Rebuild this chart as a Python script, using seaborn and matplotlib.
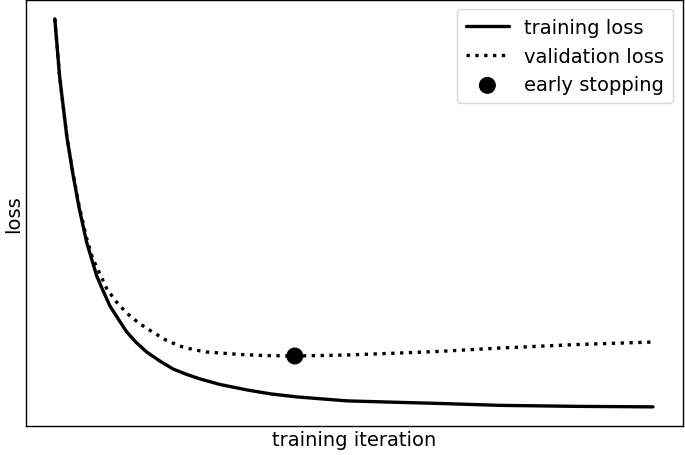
import numpy as np
import pandas as pd
import seaborn as sns
import matplotlib
matplotlib.use("Agg")
import matplotlib.pyplot as plt

# values
train_iter = [0, 0.8, 2.0, 3.0, 4.0, 5.3, 7.0, 8.0, 9.2, 10.8, 12.0, 13.5, 15.3, 17.5, 19.7,
              22.0, 24.2, 27.5, 32.0, 36.0, 40.3, 48.7, 57.5, 63.7, 74.2, 87.0, 99.7]
train_loss = [4.08, 3.50, 2.90, 2.53, 2.20, 1.84, 1.50, 1.36, 1.20, 1.05, 0.94, 0.84, 0.74, 0.65,
              0.57, 0.515, 0.47, 0.415, 0.36, 0.32, 0.29, 0.25, 0.235, 0.225, 0.205, 0.195, 0.19]

val_iter = [0, 0.8, 2.0, 3.0, 4.0, 5.3, 6.3, 8.7, 10.3, 12.0, 14.0, 16.3, 18.5, 20.8, 23.0,
            25.3, 27.5, 31.0, 34.7, 40.0, 48.7, 57.5, 63.7, 74.2, 87.0, 99.7]
val_loss = [4.08, 3.50, 2.90, 2.54, 2.22, 1.88, 1.68, 1.37, 1.24, 1.13, 1.03, 0.94, 0.86, 0.80,
            0.765, 0.74, 0.73, 0.715, 0.705, 0.70, 0.71, 0.73, 0.745, 0.78, 0.815, 0.84]

stop_iter = [40.0]
stop_loss = [0.70]

train_df = pd.DataFrame({"iteration": train_iter, "loss": train_loss})
val_df = pd.DataFrame({"iteration": val_iter, "loss": val_loss})
stop_df = pd.DataFrame({"iteration": stop_iter, "loss": stop_loss})

sns.set_style("white")
plt.rcParams["font.family"] = ["DejaVu Sans"]
plt.rcParams["text.color"] = "black"
plt.rcParams["axes.labelcolor"] = "black"

fig, ax = plt.subplots(figsize=(6.85, 4.56), dpi=100)
fig.subplots_adjust(left=0.038, right=0.997, top=0.998, bottom=0.064)

sns.lineplot(data=train_df, x="iteration", y="loss", color="black", lw=2.4,
             solid_joinstyle="round", label="training loss", ax=ax)
sns.lineplot(data=val_df, x="iteration", y="loss", color="black", lw=2.4,
             linestyle=":", label="validation loss", ax=ax)
sns.scatterplot(data=stop_df, x="iteration", y="loss", color="black", s=150,
                edgecolor="none", label="early stopping", ax=ax, zorder=5)

ax.set_xticks([])
ax.set_yticks([])
ax.set_xlabel("training iteration", fontsize=14, labelpad=3)
ax.set_ylabel("loss", fontsize=14, labelpad=2)
ax.set_ylim(0, 4.27)
ax.set_xlim(-4.8, 104.7)
for sp in ax.spines.values():
    sp.set_color("black")
    sp.set_linewidth(1.0)

ax.legend(loc="upper right", fontsize=14, frameon=True, edgecolor="#cccccc",
          borderpad=0.45, handlelength=2.2, borderaxespad=0,
          bbox_to_anchor=(0.985, 0.978))

fig.savefig("out.png", dpi=100)
